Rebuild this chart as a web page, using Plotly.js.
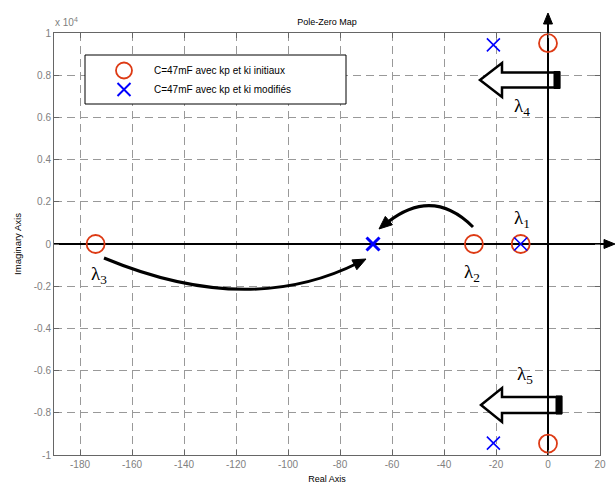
<!DOCTYPE html>
<html><head><meta charset="utf-8">
<script src="https://cdn.plot.ly/plotly-3.0.1.min.js"></script>
<style>body{margin:0;background:#fff}#chart{width:616px;height:486px}</style>
</head><body><div id="chart"></div>
<script>
// ---- data (imaginary parts in units of 10^4) ----
const seriesNames = ['C=47mF avec kp et ki initiaux', 'C=47mF avec kp et ki modifiés'];
const initialRe = [-174, -28.5, -10.5, 0, 0];
const initialIm = [0, 0, 0, 0.952, -0.946];
const modifiedRe = [-67.3, -10.5, -21, -21];
const modifiedIm = [0, 0, 0.944, -0.944];
const modifiedLineW = [3, 1.6, 1.6, 1.6];
const xTickVals = [-180, -160, -140, -120, -100, -80, -60, -40, -20, 0, 20];
const xTickText = ['-180', '-160', '-140', '-120', '-100', '-80', '-60', '-40', '-20', '0', '20'];
const yTickVals = [-1, -0.8, -0.6, -0.4, -0.2, 0, 0.2, 0.4, 0.6, 0.8, 1];
const yTickText = ['-1', '-0.8', '-0.6', '-0.4', '-0.2', '0', '0.2', '0.4', '0.6', '0.8', '1'];
const lambdaLabels = ['λ<sub>1</sub>', 'λ<sub>2</sub>', 'λ<sub>3</sub>', 'λ<sub>4</sub>', 'λ<sub>5</sub>'];

// ---- pixel -> paper helpers (plot area 54..600 x 33..455) ----
const PX0 = 54, PW = 546, PY0 = 33, PH = 422;
const fx = px => (px - PX0) / PW;
const fy = py => (PY0 + PH - py) / PH;
const pt = (px, py) => fx(px).toFixed(5) + ',' + fy(py).toFixed(5);
function pathOf(pts, close) {
  return 'M' + pts.map(p => pt(p[0], p[1])).join(' L') + (close ? ' Z' : '');
}
function headPath(tip, dir, len, half) {
  const n = Math.hypot(dir[0], dir[1]); const ux = dir[0] / n, uy = dir[1] / n;
  const bx = tip[0] - ux * len, by = tip[1] - uy * len;
  return pathOf([tip, [bx - uy * half, by + ux * half], [bx + uy * half, by - ux * half]], true);
}
const black = '#000';
const shapes = [];
const P = (path, o) => shapes.push(Object.assign({type: 'path', xref: 'paper', yref: 'paper', path: path, line: {color: black, width: 2}}, o || {}));

// axis extensions with arrowheads
P(pathOf([[600, 244], [606, 244]]));
P(headPath([615, 244], [1, 0], 11, 4.5), {fillcolor: black, line: {color: black, width: 1}});
P(pathOf([[548, 33], [548, 24]]));
P(headPath([548, 13], [0, -1], 11, 4.5), {fillcolor: black, line: {color: black, width: 1}});

// hollow block arrows (lambda4 / lambda5)
function block(tipX, cy, headX, headHalf, shaftHalf, rightX) {
  P(pathOf([[tipX, cy], [headX, cy - headHalf], [headX, cy - shaftHalf], [rightX, cy - shaftHalf],
            [rightX, cy + shaftHalf], [headX, cy + shaftHalf], [headX, cy + headHalf]], true),
    {fillcolor: '#fff', line: {color: black, width: 2.5}});
  P(pathOf([[548, cy - shaftHalf], [548, cy + shaftHalf]]), {line: {color: black, width: 2}});
  P(pathOf([[rightX - 5, cy - shaftHalf - 1], [rightX + 1, cy - shaftHalf - 1], [rightX + 1, cy + shaftHalf + 1], [rightX - 5, cy + shaftHalf + 1]], true),
    {fillcolor: black, line: {color: black, width: 1}});
}
block(480, 80, 502, 17, 7.5, 559);
block(481, 405, 502, 17, 8, 561);

// curved arrows
P('M' + pt(104, 258) + ' Q' + pt(248, 318) + ' ' + pt(358, 263), {line: {color: black, width: 3}});
P(headPath([366, 259], [112, -56], 13, 5.5), {fillcolor: black, line: {color: black, width: 1}});
P('M' + pt(473, 227) + ' Q' + pt(433, 187) + ' ' + pt(388, 222), {line: {color: black, width: 3}});
P(headPath([379, 229], [-48, 41], 13, 5.5), {fillcolor: black, line: {color: black, width: 1}});

// legend box
shapes.push({type: 'rect', xref: 'paper', yref: 'paper', x0: fx(85), x1: fx(346), y0: fy(104), y1: fy(55),
  line: {color: black, width: 1}, fillcolor: '#fff', layer: 'above'});

const lamPos = [[512, 219], [462, 273], [89, 275], [512, 107], [515, 375]];
const annotations = lambdaLabels.map((t, i) => ({
  text: t, xref: 'paper', yref: 'paper', x: fx(lamPos[i][0]), y: fy(lamPos[i][1]),
  xanchor: 'left', yanchor: 'middle', showarrow: false,
  font: {family: 'Liberation Serif, Times New Roman, serif', size: 19, color: black}
}));
annotations.push({text: 'x 10<sup>4</sup>', xref: 'paper', yref: 'paper', x: fx(53), y: fy(22),
  xanchor: 'left', yanchor: 'middle', showarrow: false,
  font: {family: 'Liberation Sans, Arial, sans-serif', size: 10, color: '#808080'}});

const traces = [
  {x: initialRe, y: initialIm, name: seriesNames[0], type: 'scatter', mode: 'markers',
   marker: {symbol: 'circle-open', size: 18, color: '#dd3a14', line: {width: 1.8, color: '#dd3a14'}}},
  {x: modifiedRe, y: modifiedIm, name: seriesNames[1], type: 'scatter', mode: 'markers',
   marker: {symbol: 'x-thin-open', size: 13, color: '#0000ff', line: {width: modifiedLineW, color: '#0000ff'}}}
];

const axisCommon = {
  showline: true, linecolor: '#666', linewidth: 1, mirror: 'ticks',
  ticks: 'inside', ticklen: 5, tickcolor: '#666', tickwidth: 1,
  showgrid: true, gridcolor: '#999', gridwidth: 1, griddash: '8px,5px',
  tickfont: {family: 'Liberation Sans, Arial, sans-serif', size: 10, color: '#808080'},
  zeroline: true, zerolinecolor: black, zerolinewidth: 2, automargin: false
};

const layout = {
  width: 616, height: 486,
  margin: {l: 54, r: 16, t: 33, b: 31, pad: 0},
  paper_bgcolor: '#fff', plot_bgcolor: '#fff',
  font: {family: 'Liberation Sans, Arial, sans-serif', size: 9, color: black},
  title: {text: 'Pole-Zero Map', font: {size: 9, color: black}, x: 0.5, xref: 'paper',
          y: 1 - 22 / 486, yref: 'container', yanchor: 'middle'},
  xaxis: Object.assign({}, axisCommon, {range: [-190, 20], tickvals: xTickVals, ticktext: xTickText,
          title: {text: 'Real Axis', font: {size: 9, color: black}, standoff: 6}}),
  yaxis: Object.assign({}, axisCommon, {range: [-1, 1], tickvals: yTickVals, ticktext: yTickText,
          title: {text: 'Imaginary Axis', font: {size: 9.5, color: black}, standoff: 10}}),
  showlegend: true,
  legend: {x: fx(94), y: fy(56), xanchor: 'left', yanchor: 'top', bgcolor: 'rgba(0,0,0,0)',
           borderwidth: 0, itemsizing: 'trace', itemwidth: 50,
           font: {family: 'Liberation Sans, Arial, sans-serif', size: 10, color: black}},
  shapes: shapes, annotations: annotations
};
Plotly.newPlot('chart', traces, layout, {displayModeBar: false, staticPlot: true});
</script></body></html>
